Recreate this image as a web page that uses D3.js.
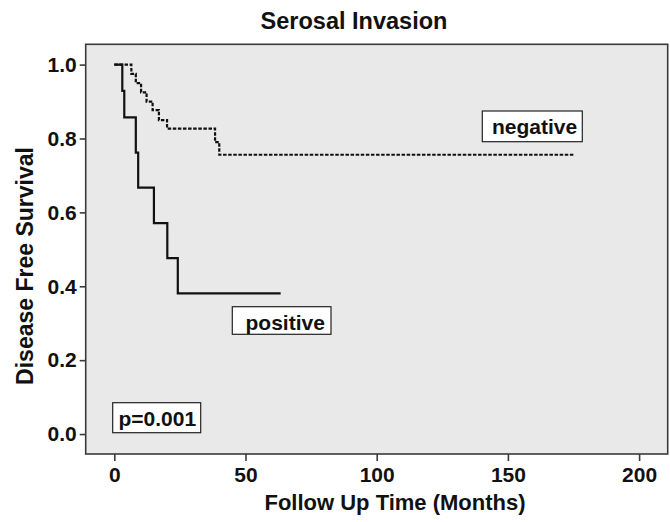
<!DOCTYPE html>
<html>
<head>
<meta charset="utf-8">
<script src="https://cdn.jsdelivr.net/npm/d3@7"></script>
<style>
  body { margin: 0; background: #fff; }
  svg { display: block; font-family: "Liberation Sans", Arial, Helvetica, sans-serif; font-weight: bold; }
</style>
</head>
<body>
<svg id="chart" width="670" height="522"></svg>
<script>
// Kaplan-Meier curves (months, survival proportion)
const posTimes = [0, 3.05, 3.8, 8.2, 9.1, 15.1, 20.2, 24.2, 63.4];
const posSurv = [1.0, 0.929, 0.857, 0.762, 0.667, 0.571, 0.476, 0.381, 0.381];
const negTimes = [0, 6.5, 8.2, 10.2, 12.3, 14.6, 17.0, 20.1, 38.4, 40.0, 175.0];
const negSurv = [1.0, 0.975, 0.95, 0.925, 0.90, 0.877, 0.85, 0.827, 0.79, 0.756, 0.756];

const xTicks = [0, 50, 100, 150, 200];
const yTicks = [0.0, 0.2, 0.4, 0.6, 0.8, 1.0];

const titleText = "Serosal Invasion";
const xTitle = "Follow Up Time (Months)";
const yTitle = "Disease Free Survival";
const groupLabels = ["negative", "positive"];
const pText = "p=0.001";

const svg = d3.select("#chart");

const x = d3.scaleLinear().domain([-10.9, 210.9]).range([85.7, 667.7]);
const y = d3.scaleLinear().domain([-0.054, 1.055]).range([454, 44.3]);

// plot frame
svg.append("rect")
  .attr("x", x(-10.9))
  .attr("y", y(1.055))
  .attr("width", x(210.9) - x(-10.9))
  .attr("height", y(-0.054) - y(1.055))
  .attr("fill", "#e9e9e9")
  .attr("stroke", "#3a3a3a")
  .attr("stroke-width", 1.6);

// axes
const xAxis = svg.append("g")
  .attr("transform", `translate(0,${y(-0.054)})`)
  .call(d3.axisBottom(x).tickValues(xTicks).tickSize(7).tickPadding(6));
const yAxis = svg.append("g")
  .attr("transform", `translate(${x(-10.9)},0)`)
  .call(d3.axisLeft(y).tickValues(yTicks).tickFormat(d3.format(".1f")).tickSize(6).tickPadding(3));

[xAxis, yAxis].forEach((g) => {
  g.select(".domain").remove();
  g.selectAll("line").attr("stroke", "#3a3a3a").attr("stroke-width", 1.6);
  g.selectAll("text")
    .attr("fill", "#111")
    .style("font-size", "21px")
    .style("font-weight", "bold")
    .style("font-family", "'Liberation Sans', Arial, sans-serif");
});

const line = d3.line()
  .x((d) => x(d[0]))
  .y((d) => y(d[1]))
  .curve(d3.curveStepAfter);

// negative (dashed)
svg.append("path")
  .datum(d3.zip(negTimes, negSurv))
  .attr("fill", "none")
  .attr("stroke", "#111")
  .attr("stroke-width", 2.2)
  .attr("stroke-dasharray", "3.5,1.6")
  .attr("d", line);

// positive (solid)
svg.append("path")
  .datum(d3.zip(posTimes, posSurv))
  .attr("fill", "none")
  .attr("stroke", "#111")
  .attr("stroke-width", 2.2)
  .attr("d", line);

// boxed labels
function boxLabel(txt, bx, by, bw, bh, tx, ty) {
  const g = svg.append("g");
  g.append("rect")
    .attr("x", bx).attr("y", by)
    .attr("width", bw).attr("height", bh)
    .attr("fill", "#fff")
    .attr("stroke", "#222")
    .attr("stroke-width", 1.2);
  g.append("text")
    .attr("x", tx).attr("y", ty)
    .attr("font-size", 21)
    .attr("fill", "#111")
    .text(txt);
}
boxLabel(groupLabels[0], 482.3, 111, 100, 30.7, 492, 133.5);
boxLabel(groupLabels[1], 232.3, 306.7, 98.7, 27.6, 245.5, 330);
boxLabel(pText, 112.7, 402.7, 88, 30, 118.5, 425.5);

// titles
svg.append("text")
  .attr("x", 354).attr("y", 28.5)
  .attr("text-anchor", "middle")
  .attr("font-size", 23.5)
  .attr("fill", "#111")
  .text(titleText);

svg.append("text")
  .attr("x", 395).attr("y", 510)
  .attr("text-anchor", "middle")
  .attr("font-size", 22)
  .attr("fill", "#111")
  .text(xTitle);

svg.append("text")
  .attr("transform", "translate(33.3,266) rotate(-90)")
  .attr("text-anchor", "middle")
  .attr("font-size", 23)
  .attr("fill", "#111")
  .text(yTitle);
</script>
</body>
</html>
